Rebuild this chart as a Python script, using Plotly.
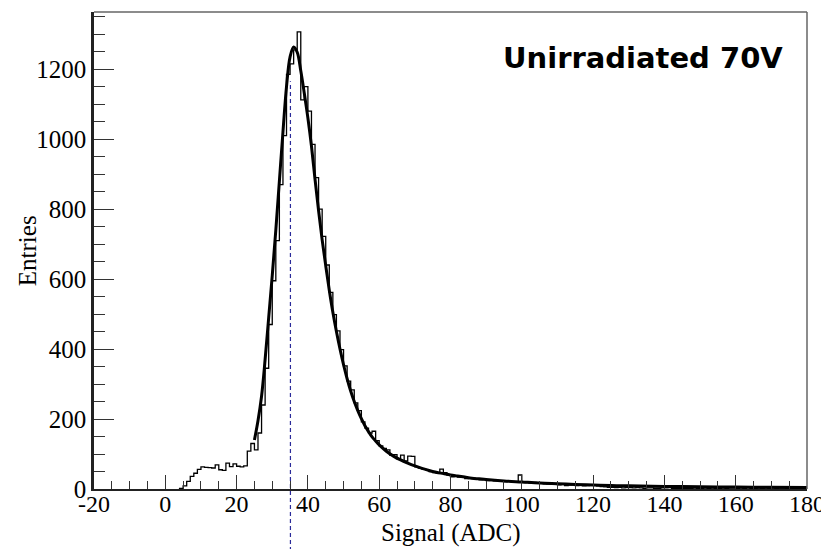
import plotly.graph_objects as go

# ---------------- data ----------------
bin_start = 4
bin_width = 1
counts = [
    2, 9, 22, 36, 45, 56, 63, 62, 61, 60,
    69, 55, 53, 74, 64, 72, 65, 63, 66, 108,
    130, 112, 160, 240, 345, 470, 595, 710, 870, 1010,
    1185, 1215, 1255, 1306, 1112, 1150, 1080, 985, 890, 800,
    722, 640, 562, 498, 452, 398, 352, 308, 283, 246,
    224, 192, 174, 160, 165, 138, 123, 116, 112, 96,
    98, 86, 97, 80, 94, 93, 63, 60, 57, 55,
    50, 47, 45, 57, 47, 40, 35, 38, 34, 33,
    30, 31, 30, 28, 26, 27, 24, 25, 23, 24,
    22, 21, 22, 20, 21, 40, 19, 18, 17, 19,
    16, 16, 15, 14, 13, 15, 12, 14, 10, 11,
    12, 10, 11, 9, 10, 12, 11, 9, 7, 6,
    5, 5, 4, 5, 3, 4, 4, 3, 4, 3,
    2, 3, 3, 2, 2, 3, 3, 4, 2, 2,
    1, 1, 1, 1, 0, 1, 1, 0, 1, 0,
    1, 2, 0, 1, 0, 0, 1, 0, 1, 3,
    1, 2, 0, 1, 0, 1, 0, 1, 0, 0,
    1, 0, 0, 0, 0, 0,
]

fit_x = [25, 26, 27, 28, 29, 30, 31, 32, 33, 34, 35, 36, 37, 38, 39, 40, 41, 42,
         43, 44, 45, 46, 47, 48, 49, 50, 51, 52, 53, 54, 55, 56, 57, 58, 59, 60,
         62, 64, 66, 68, 70, 72, 74, 76, 78, 80, 82, 84, 86, 88, 90,
         95, 100, 105, 110, 115, 120, 125, 130, 140, 150, 160, 170, 180]
fit_y = [140, 195, 265, 370, 490, 610, 740, 880, 1020, 1150,
         1235, 1263, 1248, 1195, 1130, 1060, 980, 885, 795, 712,
         638, 568, 505, 450, 400, 355, 315, 280, 250, 224,
         201, 181, 164, 149, 137, 126,
         108, 94, 83, 74, 66, 59, 53, 48, 44, 40, 37, 34, 31, 29, 27,
         23, 20, 17, 15, 13, 11.5, 10, 9,
         7.5, 6.3, 5.4, 4.7, 4.1]

mpv = 35.1
x_range = [-20, 180]
y_range = [0, 1363]
x_tick_vals = [-20, 0, 20, 40, 60, 80, 100, 120, 140, 160, 180]
x_tick_labels = ["-20", "0", "20", "40", "60", "80", "100", "120", "140", "160", "180"]
title_text = "Unirradiated 70V"
x_title = "Signal (ADC)"
y_title = "Entries"

# ---------------- build histogram step line ----------------
edges = [bin_start + i * bin_width for i in range(len(counts) + 1)]
hx = [edges[0]] + edges + [edges[-1]]
hy = [0] + counts + [counts[-1], 0]

fig = go.Figure()
fig.add_trace(go.Scatter(x=hx, y=hy, mode="lines", line=dict(shape="hv", color="black", width=1.3),
                         hoverinfo="skip", showlegend=False))
fig.add_trace(go.Scatter(x=fit_x, y=fit_y, mode="lines", line=dict(shape="spline", color="black", width=3),
                         hoverinfo="skip", showlegend=False))

serif = "Liberation Serif, Times New Roman, serif"

# page body adds an 8px offset; margins compensate so the plot frame lands at 94..807 x 12..489
fig.update_layout(
    width=829, height=549,
    margin=dict(l=86, r=30, t=4, b=68),
    paper_bgcolor="white", plot_bgcolor="white",
    font=dict(family=serif, size=24, color="black"),
    xaxis=dict(range=x_range, tickvals=x_tick_vals, ticktext=x_tick_labels,
               ticks="inside", ticklen=14, tickwidth=1.2, automargin=False,
               tickcolor="#333", showline=True, linecolor="#222", linewidth=2, mirror=False,
               showgrid=False, zeroline=False, ticklabelstandoff=-8,
               minor=dict(ticks="inside", ticklen=8, dtick=5, tick0=0, tickcolor="#333", tickwidth=1.2),
               tickfont=dict(family=serif, size=24, color="black")),
    yaxis=dict(range=y_range, dtick=200, tick0=0, ticks="inside", ticklen=20, tickwidth=1.2,
               tickcolor="#333", showline=True, linecolor="#222", linewidth=2.5, mirror=False,
               showgrid=False, zeroline=False, automargin=False,
               minor=dict(ticks="inside", ticklen=11, dtick=50, tickcolor="#333", tickwidth=1.2),
               tickfont=dict(family=serif, size=25, color="black")),
)

# axis titles
fig.add_annotation(text=x_title, xref="paper", yref="paper", x=0.5, y=-0.092,
                   xanchor="center", yanchor="middle", showarrow=False,
                   font=dict(family=serif, size=25, color="black"))
fig.add_annotation(text=y_title, xref="paper", yref="paper", x=-0.093, y=0.5, textangle=-90,
                   xanchor="center", yanchor="middle", showarrow=False,
                   font=dict(family=serif, size=25, color="black"))

# frame top/right
fig.add_shape(type="line", xref="paper", yref="paper", x0=0, x1=1, y0=1, y1=1,
              line=dict(color="#666", width=1.5))
fig.add_shape(type="line", xref="paper", yref="paper", x0=1, x1=1, y0=0, y1=1,
              line=dict(color="#666", width=1.5))

# MPV dashed line extending below the axis
fig.add_shape(type="line", xref="x", yref="paper", x0=mpv, x1=mpv, y0=-0.13, y1=0.855,
              line=dict(color="#2a2a9a", width=1.2, dash="4px,3px"), layer="below")

fig.add_annotation(text="<b>" + title_text + "</b>", xref="paper", yref="paper",
                   x=0.969, y=0.904, xanchor="right", yanchor="middle", showarrow=False,
                   font=dict(family="DejaVu Sans", size=29, color="black"))

fig.write_html("out.html")
